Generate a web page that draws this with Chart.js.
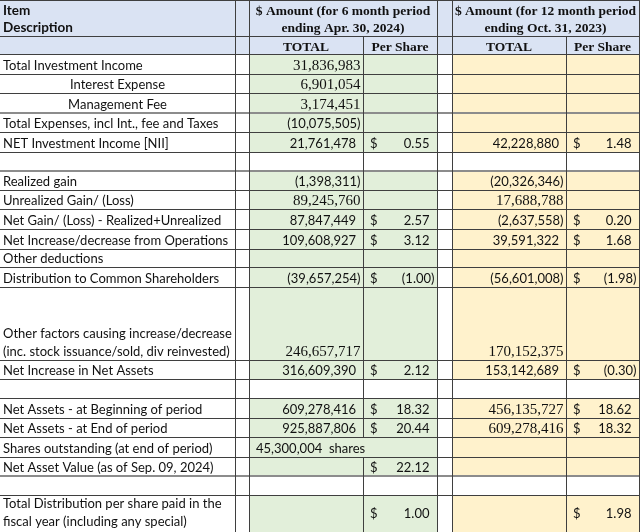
<!DOCTYPE html>
<html>
<head>
<meta charset="utf-8">
<script src="https://cdn.jsdelivr.net/npm/chart.js@4.4.1/dist/chart.umd.min.js"></script>
<style>
  html, body { margin: 0; padding: 0; background: #fff; }
  #wrap { width: 640px; height: 532px; position: relative; }
</style>
</head>
<body>
<div id="wrap"><canvas id="myChart"></canvas></div>
<script>
const rowLabels = [
    'Total Investment Income',
    'Interest Expense',
    'Management Fee',
    'Total Expenses, incl Int., fee and Taxes',
    'NET Investment Income [NII]',
    '',
    'Realized gain',
    'Unrealized Gain/ (Loss)',
    'Net Gain/ (Loss) - Realized+Unrealized',
    'Net Increase/decrease from Operations',
    'Other deductions',
    'Distribution to Common Shareholders',
    'Other factors causing increase/decrease\n(inc. stock issuance/sold, div reinvested)',
    'Net Increase in Net Assets',
    '',
    'Net Assets - at Beginning of period',
    'Net Assets - at End of period',
    'Shares outstanding (at end of period)',
    'Net Asset Value (as of Sep. 09, 2024)',
    '',
    'Total Distribution per share paid in the\nfiscal year (including any special)'
];

const sixMonthTotal = [31836983, 6901054, 3174451, -10075505, 21761478, null, -1398311, 89245760, 87847449, 109608927, null, -39657254, 246657717, 316609390, null, 609278416, 925887806, 45300004, null, null, null];
const sixMonthPerShare = [null, null, null, null, 0.55, null, null, null, 2.57, 3.12, null, -1.00, null, 2.12, null, 18.32, 20.44, null, 22.12, null, 1.00];
const twelveMonthTotal = [null, null, null, null, 42228880, null, -20326346, 17688788, -2637558, 39591322, null, -56601008, 170152375, 153142689, null, 456135727, 609278416, null, null, null, null];
const twelveMonthPerShare = [null, null, null, null, 1.48, null, null, null, 0.20, 1.68, null, -1.98, null, -0.30, null, 18.62, 18.32, null, null, null, 1.98];

const headerItem = 'Item\nDescription';
const periodTitles = ['$ Amount (for 6 month period\nending Apr. 30, 2024)', '$ Amount (for 12 month period\nending Oct. 31, 2023)'];
const subHeaders = ['TOTAL', 'Per Share', 'TOTAL', 'Per Share'];
const sharesSuffix = '  shares';

// ---- layout (table units, mapped through the scales) ----
const colEdges = [0, 235, 249, 363, 437, 452, 566, 639];
const rowEdges = [0, 36, 54, 74, 93, 113, 132, 152, 171, 190, 209, 229, 249, 267, 287, 360, 379, 398, 418, 437, 457, 476, 495, 532];
const blankRows = [5, 14, 19];
const centeredLabels = [1, 2];
const thickLines = [113, 171, 476];
const serifSix = [0, 1, 2, 7, 12];
const serifTwelve = [7, 12, 15, 16];
const mergedShares = 17;
const middleRow = 20;

const SANS = 'Lato, "Open Sans", sans-serif';
const SERIF = '"Liberation Serif", "DejaVu Serif", serif';
const HEADER_BG = '#dae3f3';
const GREEN_BG = '#e2efda';
const YELLOW_BG = '#fff2cc';
const LINE = '#3f3f3f';
const TEXT = '#111';

function fmtTotal(v) {
    var s = Math.abs(v).toLocaleString('en-US');
    return v < 0 ? '(' + s + ')' : s;
}
function fmtPer(v) {
    var s = Math.abs(v).toFixed(2);
    return v < 0 ? '(' + s + ')' : s;
}

const tablePlugin = {
    id: 'tableCells',
    beforeDatasetsDraw(chart) {
        const ctx = chart.ctx;
        const xs = chart.scales.x, ys = chart.scales.y;
        const px = v => xs.getPixelForValue(v);
        const py = v => ys.getPixelForValue(v);

        ctx.save();
        ctx.fillStyle = '#fff';
        ctx.fillRect(px(0), py(0), px(640) - px(0), py(532) - py(0));

        // header background
        ctx.fillStyle = HEADER_BG;
        ctx.fillRect(px(0), py(0), px(640) - px(0), py(rowEdges[2]) - py(0));

        // body backgrounds
        rowLabels.forEach((lab, i) => {
            if (blankRows.includes(i)) return;
            const top = py(rowEdges[i + 2]), bot = py(rowEdges[i + 3]);
            ctx.fillStyle = GREEN_BG;
            ctx.fillRect(px(colEdges[2]), top, px(colEdges[4]) - px(colEdges[2]), bot - top);
            ctx.fillStyle = YELLOW_BG;
            ctx.fillRect(px(colEdges[5]), top, px(colEdges[7]) - px(colEdges[5]), bot - top);
        });

        // horizontal lines
        rowEdges.forEach(y => {
            const thick = thickLines.includes(y);
            ctx.strokeStyle = thick ? '#8c8c8c' : LINE;
            ctx.lineWidth = thick ? 2 : 1;
            const yy = thick ? py(y) : Math.round(py(y)) + 0.5;
            ctx.beginPath();
            ctx.moveTo(px(0), yy);
            ctx.lineTo(px(640), yy);
            ctx.stroke();
        });

        // vertical lines
        ctx.strokeStyle = LINE;
        ctx.lineWidth = 1;
        [1, 2, 4, 5, 7].forEach(c => {
            const xx = Math.round(px(colEdges[c])) + 0.5;
            ctx.beginPath();
            ctx.moveTo(xx, py(0));
            ctx.lineTo(xx, py(532));
            ctx.stroke();
        });
        [3, 6].forEach(c => {
            const xx = Math.round(px(colEdges[c])) + 0.5;
            for (let r = 1; r < rowEdges.length - 1; r++) {
                if (c === 3 && r - 2 === mergedShares) continue;
                ctx.beginPath();
                ctx.moveTo(xx, py(rowEdges[r]));
                ctx.lineTo(xx, py(rowEdges[r + 1]));
                ctx.stroke();
            }
        });

        ctx.fillStyle = TEXT;
        ctx.textBaseline = 'alphabetic';

        function text(str, x, y, align, font) {
            ctx.font = font;
            ctx.textAlign = align;
            ctx.fillText(str, px(x), py(y));
        }

        // header
        headerItem.split('\n').forEach((s, k) => text(s, 3, 15 + k * 17, 'left', 'bold 13.5px ' + SANS));
        periodTitles.forEach((t, p) => {
            const cx = p === 0 ? (colEdges[2] + colEdges[4]) / 2 : (colEdges[5] + colEdges[7]) / 2;
            t.split('\n').forEach((s, k) => text(s, cx, 15 + k * 17, 'center', 'bold 13.5px ' + SERIF));
        });
        const subCols = [2, 3, 5, 6];
        subHeaders.forEach((s, k) => {
            const c = subCols[k];
            text(s, (colEdges[c] + colEdges[c + 1]) / 2, 50.5, 'center', 'bold 13.5px ' + SERIF);
        });

        // body
        rowLabels.forEach((lab, i) => {
            const top = rowEdges[i + 2], bot = rowEdges[i + 3];
            const base = i === middleRow ? (top + bot) / 2 + 4.5 : bot - 4.5;
            const lines = lab.split('\n');
            lines.forEach((s, k) => {
                const b = i === middleRow ? bot - 6 - (lines.length - 1 - k) * 18 : bot - 4.5 - (lines.length - 1 - k) * 18;
                if (centeredLabels.includes(i)) text(s, colEdges[1] / 2, b, 'center', '13px ' + SANS);
                else text(s, 3, b, 'left', '13px ' + SANS);
            });

            const totals = [[sixMonthTotal[i], 3, serifSix.includes(i)], [twelveMonthTotal[i], 6, serifTwelve.includes(i)]];
            totals.forEach(([v, c, serif]) => {
                if (v == null) return;
                if (c === 3 && i === mergedShares) {
                    text(fmtTotal(v) + sharesSuffix, colEdges[2] + 7, base, 'left', '13px ' + SANS);
                    return;
                }
                const right = colEdges[c] - (v < 0 || serif ? 2.5 : 7);
                text(fmtTotal(v), right, base, 'right', serif ? '15px ' + SERIF : '13px ' + SANS);
            });

            const pers = [[sixMonthPerShare[i], 3], [twelveMonthPerShare[i], 6]];
            pers.forEach(([v, c]) => {
                if (v == null) return;
                text('$', colEdges[c] + 7, base, 'left', '13px ' + SANS);
                const right = colEdges[c + 1] - (v < 0 ? 2.5 : 7.5);
                text(fmtPer(v), right, base, 'right', '13px ' + SANS);
            });
        });
        ctx.restore();
    }
};

const ctx = document.getElementById('myChart').getContext('2d');
new Chart(ctx, {
    type: 'scatter',
    data: { datasets: [] },
    options: {
        responsive: true,
        maintainAspectRatio: false,
        animation: false,
        layout: { padding: 0 },
        plugins: { legend: { display: false }, tooltip: { enabled: false } },
        scales: {
            x: { type: 'linear', min: 0, max: 640, display: false },
            y: { type: 'linear', min: 0, max: 532, reverse: true, display: false }
        }
    },
    plugins: [tablePlugin]
});
</script>
</body>
</html>
